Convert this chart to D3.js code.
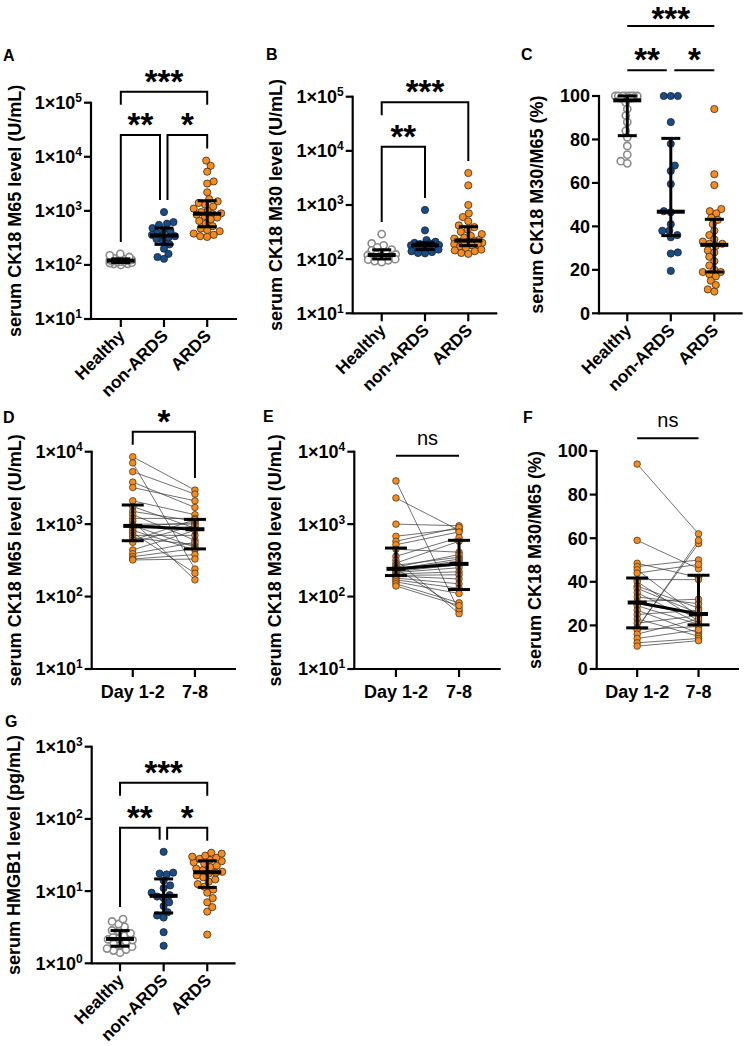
<!DOCTYPE html>
<html><head><meta charset="utf-8">
<script src="https://cdn.jsdelivr.net/npm/d3@7"></script>
<style>
body{margin:0;background:#fff}
svg{display:block}
text{font-family:"Liberation Sans",Arial,sans-serif}
</style>
</head><body>
<svg id="chart" width="747" height="1046"></svg>
<script>
// ---------------- data ----------------
const groups = ["Healthy", "non-ARDS", "ARDS"];
const days = ["Day 1-2", "7-8"];

// A: serum CK18 M65 (U/mL)
const m65Healthy = [100,104,105,108,110,112,114,116,118,120,120,122,124,126,128,130,134,140,150,160];
const m65NonARDS = [950,620,580,550,480,450,420,390,360,350,340,320,300,270,240,200,160,140,130];
const m65ARDS = [8500,6800,5300,3500,3200,2200,1650,1500,1400,1300,1200,1100,1000,950,900,870,850,800,750,700,650,580,520,470,440,420,380,360,340,330];

// B: serum CK18 M30 (U/mL)
const m30Healthy = [290,195,180,165,150,145,135,128,122,120,118,115,110,106,103,100,98,95,92,88];
const m30NonARDS = [810,340,225,210,200,195,190,185,182,180,175,170,165,160,150,140,135,130,128];
const m30ARDS = [3900,2300,1000,700,600,500,420,390,350,320,290,270,250,240,225,215,210,205,200,195,190,185,180,170,160,150,145,140,130,125];

// C: M30/M65 ratio (%)
const ratioHealthy = [100,100,100,100,100,100,100,100,99,99,97,94,91,88,84,81,77,73,70,69];
const ratioNonARDS = [100,100,100,88,78,68,65.5,59.5,47,46.5,41,38,38,36,35,28,27.5,19.5];
const ratioARDS = [94,64,59,48,47,46,44,43,41,38,36,34,33,32,32,31,29,28,26,24,22,20,19,19,18,17,15,13,11,10];

// D: paired M65, day 1-2 vs day 7-8 (same index = same patient)
const m65Day1 = [8500,7000,5300,3800,3200,2100,1750,1500,1350,1200,1100,1000,960,930,880,820,760,700,650,600,560,440,390,355,330,320];
const m65Day7 = [2950,240,2600,1700,2100,1350,880,1100,600,1200,170,1000,480,1050,920,440,210,700,520,1150,960,820,560,460,380,330];

// E: paired M30
const m30Day1 = [3950,2300,1000,680,580,520,450,360,320,290,270,255,243,240,236,230,222,215,205,196,192,180,170,160,150,140];
const m30Day7 = [63,820,950,860,900,780,410,650,58,580,350,380,68,330,310,290,275,250,220,200,175,150,130,110,82,75];

// F: paired ratio (%)
const ratioDay1 = [94,59,48.5,47,45.5,44,41,40,38,37,35,33,31,30,29,27,25,23,21,19,18.5,18,16,14,12,10.5];
const ratioDay7 = [62,46,42,50,24,48,41,22,28,25.5,21,30,32,25,20.5,16.5,27,15,24.5,57.5,59,19.5,23,18,14,13];

// G: serum HMGB1 (pg/mL)
const hmgbHealthy = [1.4,1.5,1.55,1.6,1.7,1.8,1.9,2.0,2.1,2.15,2.2,2.3,2.4,2.6,2.8,2.85,3.2,3.5,3.8,4.1];
const hmgbNonARDS = [1.75,2.7,4.3,4.6,5.1,6.2,7.0,8.0,8.4,8.8,9.5,11,12,14,17,17.5,18,35];
const hmgbARDS = [2.5,5.2,6.0,7.0,8.0,9.5,10.5,11.5,12.5,13.5,14.5,15.5,16.5,17.5,18,18.5,19.5,20.5,21.5,22.5,24,25,26,27,28,29,30,31,33,34];

// axis ticks
const logTicks5 = [1e1,1e2,1e3,1e4,1e5];
const logTicks4 = [1e1,1e2,1e3,1e4];
const logTicksG = [1e0,1e1,1e2,1e3];
const pctTicks = [0,20,40,60,80,100];

// significance annotations [from, to, label]
const sig3 = [["Healthy","non-ARDS","**"],["non-ARDS","ARDS","*"],["Healthy","ARDS","***"]];
const sigB = [["Healthy","non-ARDS","**"],["Healthy","ARDS","***"]];
const sigD = [["Day 1-2","7-8","*"]];
const sigNS = [["Day 1-2","7-8","ns"]];

// ---------------- style / layout ----------------
const ORANGE = "#F68B1F", BLUE = "#194C86", GREY = "#8a8a8a";
const groupStyle = {
  "Healthy": {fill:"#fff", stroke:GREY, sw:1.6},
  "non-ARDS": {fill:BLUE, stroke:"#1a2233", sw:0.8},
  "ARDS": {fill:ORANGE, stroke:"#3a2a1a", sw:0.8}
};
const FONT = 18;

const svg = d3.select("#chart");

// GraphPad-style percentile (n+1 method)
function gq(arr, p){
  const s = [...arr].sort((a,b)=>a-b), n = s.length;
  let pos = p*(n+1); if(pos<1) pos=1; if(pos>n) pos=n;
  const i = Math.floor(pos), f = pos-i;
  if(i>=n) return s[n-1];
  return s[i-1] + f*(s[i]-s[i-1]);
}

// simple beeswarm offsets in pixel space
function swarm(ys, r, maxW){
  const idx = ys.map((y,i)=>i).sort((a,b)=>ys[b]-ys[a]);
  const placed = [], off = new Array(ys.length);
  const minD = 2*r*0.92;
  let flip = 1;
  for(const i of idx){
    const y = ys[i];
    let best = null, bestAlt = 0, bestScore = -Infinity;
    for(let k=0; k<=maxW && best===null; k+=0.5){
      const cands = k===0 ? [0] : [k*flip, -k*flip];
      for(const s of cands){
        let md = Infinity;
        for(const p of placed){ const d = Math.hypot(p.x-s, p.y-y); if(d<md) md=d; }
        if(md>=minD){ best=s; break; }
        if(md>bestScore){ bestScore=md; bestAlt=s; }
      }
    }
    if(best===null) best = bestAlt;
    flip = -flip;
    off[i] = best; placed.push({x:best, y});
  }
  return off;
}

function yAxis(g, p, y){
  g.append("line").attr("x1",p.ax).attr("x2",p.ax).attr("y1",p.top-1).attr("y2",p.bot+1)
    .attr("stroke","#000").attr("stroke-width",2.2);
  p.ticks.forEach(t=>{
    const yy = y(t);
    g.append("line").attr("x1",p.ax-7).attr("x2",p.ax).attr("y1",yy).attr("y2",yy)
      .attr("stroke","#000").attr("stroke-width",2.2);
    const tx = g.append("text").attr("x",p.ax-9).attr("y",yy).attr("dy","0.36em")
      .attr("text-anchor","end").attr("font-size",FONT).attr("font-weight","bold");
    if(p.log){
      const e = Math.round(Math.log10(t));
      tx.append("tspan").text("1×10");
      tx.append("tspan").attr("font-size",12).attr("dy",-7).text(e);
    } else tx.text(t);
  });
  g.append("text").attr("transform",`translate(${p.ylx},${(p.top+p.bot)/2}) rotate(-90)`)
    .attr("text-anchor","middle").attr("font-size",FONT).attr("font-weight","bold").text(p.ylabel);
  g.append("text").attr("x",p.letter[0]).attr("y",p.letter[1]).attr("font-size",16)
    .attr("font-weight","bold").text(p.id);
}

function xAxis(g, p, x, rotate){
  g.append("line").attr("x1",p.ax).attr("x2",p.x1).attr("y1",p.bot).attr("y2",p.bot)
    .attr("stroke","#000").attr("stroke-width",2.2);
  x.domain().forEach(c=>{
    const xx = x(c);
    g.append("line").attr("x1",xx).attr("x2",xx).attr("y1",p.bot).attr("y2",p.bot+8)
      .attr("stroke","#000").attr("stroke-width",2.2);
    if(rotate){
      g.append("text").attr("transform",`translate(${xx+5},${p.bot+18}) rotate(-45)`)
        .attr("text-anchor","end").attr("font-size",17.2).attr("font-weight","bold").text(c);
    } else {
      g.append("text").attr("x",xx).attr("y",p.bot+29).attr("text-anchor","middle")
        .attr("font-size",FONT).attr("font-weight","bold").text(c);
    }
  });
}

function errBar(g, cx, med, lo, hi, mw, cw){
  g.append("line").attr("x1",cx).attr("x2",cx).attr("y1",lo).attr("y2",hi).attr("stroke","#000").attr("stroke-width",3);
  [lo,hi].forEach(v=>g.append("line").attr("x1",cx-cw).attr("x2",cx+cw).attr("y1",v).attr("y2",v).attr("stroke","#000").attr("stroke-width",3));
  g.append("line").attr("x1",cx-mw).attr("x2",cx+mw).attr("y1",med).attr("y2",med).attr("stroke","#000").attr("stroke-width",4);
}

function sigMarks(g, p, x, y, datasets){
  const cats = x.domain();
  p.sig.forEach((s, si)=>{
    const [a,b,label] = s;
    const top = p.levels[si];
    let xa = x(a), xb = x(b);
    const same = p.sig.filter((q,qi)=>p.levels[qi]===top);
    if(same.length>1){
      if(same.some(q=>q!==s && q[0]===b)) xb -= 4;
      if(same.some(q=>q!==s && q[1]===a)) xa += 3.5;
    }
    if(p.style==="bracket"){
      const legEnd = c=>{
        const lower = p.sig.some((q,qi)=>p.levels[qi]>top && (q[0]===c || q[1]===c));
        if(lower) return top+13;
        const arr = datasets[cats.indexOf(c)];
        return y(d3.max(arr)) - 12;
      };
      g.append("path").attr("d",`M${xa},${legEnd(a)}V${top}H${xb}V${legEnd(b)}`)
        .attr("fill","none").attr("stroke","#000").attr("stroke-width",2);
    } else {
      g.append("line").attr("x1",xa).attr("x2",xb).attr("y1",top).attr("y2",top)
        .attr("stroke","#000").attr("stroke-width",2);
    }
    const isNS = label==="ns";
    const fs = isNS ? 20 : 33;
    const ty = isNS ? top-11 : Math.max(top+1, 0.92*fs);
    g.append("text").attr("x",(xa+xb)/2).attr("y", ty)
      .attr("text-anchor","middle").attr("font-size", fs)
      .attr("font-weight", isNS?"normal":"bold").text(label);
  });
}

function groupPanel(p){
  const g = svg.append("g");
  const x = d3.scalePoint().domain(groups).range([p.ax, p.x1]).padding(p.pad);
  const y = (p.log ? d3.scaleLog() : d3.scaleLinear()).domain(p.domain).range([p.bot, p.top]);
  yAxis(g, p, y);
  xAxis(g, p, x, true);
  groups.forEach((c,i)=>{
    const vals = p.data[i];
    const ys = vals.map(v=>y(v));
    const off = swarm(ys, 3.6, p.maxW[i]);
    const st = groupStyle[c];
    g.append("g").selectAll("circle").data(vals).join("circle")
      .attr("cx",(d,j)=>x(c)+off[j]).attr("cy",d=>y(d)).attr("r",3.6)
      .attr("fill",st.fill).attr("stroke",st.stroke).attr("stroke-width",st.sw);
  });
  groups.forEach((c,i)=>{
    const vals = p.data[i];
    errBar(g, x(c), y(gq(vals,0.5)), y(gq(vals,0.25)), y(gq(vals,0.75)), 14, 9.5);
  });
  sigMarks(g, p, x, y, p.data);
}

function pairedPanel(p){
  const g = svg.append("g");
  const x = d3.scalePoint().domain(days).range([p.ax, p.x1]).padding(0.66);
  const y = (p.log ? d3.scaleLog() : d3.scaleLinear()).domain(p.domain).range([p.bot, p.top]);
  yAxis(g, p, y);
  xAxis(g, p, x, false);
  const [d1, d7] = p.data;
  g.append("g").selectAll("line").data(d1).join("line")
    .attr("x1",x(days[0])).attr("x2",x(days[1]))
    .attr("y1",d=>y(d)).attr("y2",(d,i)=>y(d7[i]))
    .attr("stroke","#333").attr("stroke-width",0.7);
  [d1,d7].forEach((arr,k)=>{
    g.append("g").selectAll("circle").data(arr).join("circle")
      .attr("cx",x(days[k])).attr("cy",d=>y(d)).attr("r",3.3)
      .attr("fill",ORANGE).attr("stroke","#3a2a1a").attr("stroke-width",0.7);
  });
  const meds = [d1,d7].map(a=>gq(a,0.5));
  g.append("line").attr("x1",x(days[0])).attr("x2",x(days[1]))
    .attr("y1",y(meds[0])).attr("y2",y(meds[1])).attr("stroke","#000").attr("stroke-width",3);
  [d1,d7].forEach((arr,k)=>{
    errBar(g, x(days[k]), y(gq(arr,0.5)), y(gq(arr,0.25)), y(gq(arr,0.75)), 9.5, 11);
  });
  sigMarks(g, p, x, y, p.data);
}

groupPanel({id:"A", ax:91, x1:237, pad:0.69, top:102.7, bot:319, log:true, domain:[1e1,1e5], ticks:logTicks5,
  data:[m65Healthy,m65NonARDS,m65ARDS], ylabel:"serum CK18 M65 level (U/mL)", ylx:21, letter:[3,61],
  sig:sig3, levels:[135,135,91.7], style:"bracket", maxW:[11,12,14]});
groupPanel({id:"B", ax:352.7, x1:497.3, pad:0.67, top:96.7, bot:313.3, log:true, domain:[1e1,1e5], ticks:logTicks5,
  data:[m30Healthy,m30NonARDS,m30ARDS], ylabel:"serum CK18 M30 level (U/mL)", ylx:282, letter:[266,60],
  sig:sigB, levels:[146.7,102.3], style:"bracket", maxW:[14,14,14]});
groupPanel({id:"C", ax:599, x1:742.6, pad:0.65, top:96, bot:313.3, log:false, domain:[0,100], ticks:pctTicks,
  data:[ratioHealthy,ratioNonARDS,ratioARDS], ylabel:"serum CK18 M30/M65 (%)", ylx:543, letter:[521,60],
  sig:sig3, levels:[70.3,70.3,26], style:"line", maxW:[12,13,14]});
pairedPanel({id:"D", ax:91.7, x1:236, top:451.7, bot:669, log:true, domain:[1e1,1e4], ticks:logTicks4,
  data:[m65Day1,m65Day7], ylabel:"serum CK18 M65 level (U/mL)", ylx:21, letter:[3,423],
  sig:sigD, levels:[431.7], style:"bracket"});
pairedPanel({id:"E", ax:354.3, x1:500.7, top:451.7, bot:669, log:true, domain:[1e1,1e4], ticks:logTicks4,
  data:[m30Day1,m30Day7], ylabel:"serum CK18 M30 level (U/mL)", ylx:281, letter:[263,422],
  sig:sigNS, levels:[455.7], style:"line"});
pairedPanel({id:"F", ax:596.7, x1:739, top:451, bot:669, log:false, domain:[0,100], ticks:pctTicks,
  data:[ratioDay1,ratioDay7], ylabel:"serum CK18 M30/M65 (%)", ylx:541, letter:[523,423],
  sig:sigNS, levels:[438.3], style:"line"});
groupPanel({id:"G", ax:91.7, x1:235.6, pad:0.65, top:746.7, bot:963.3, log:true, domain:[1e0,1e3], ticks:logTicksG,
  data:[hmgbHealthy,hmgbNonARDS,hmgbARDS], ylabel:"serum HMGB1 level (pg/mL)", ylx:20, letter:[5,727],
  sig:sig3, levels:[827.7,827.7,782.7], style:"bracket", maxW:[15,13,15]});
</script>
</body></html>
